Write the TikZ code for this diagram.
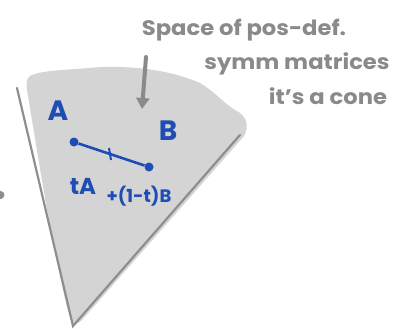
\documentclass[tikz,border=0pt]{standalone}
\usepackage{fontspec}
\setmainfont{Poppins}
\usetikzlibrary{arrows.meta}
\definecolor{conegray}{HTML}{D4D4D4}
\definecolor{linegray}{HTML}{8E8E8E}
\definecolor{inkgray}{HTML}{8A8A8A}
\definecolor{inkblue}{HTML}{1F4DB3}
\tikzset{
  edge/.style={draw=linegray, line width=2.2pt, line cap=round},
  note/.style={text=inkgray, font=\fontsize{21}{22}\selectfont\bfseries, inner sep=0pt, xscale=1.08},
  bluelbl/.style={text=inkblue, font=\fontsize{28}{30}\selectfont\bfseries, inner sep=0pt},
  bluemid/.style={text=inkblue, font=\fontsize{23}{24}\selectfont\bfseries, inner sep=0pt},
  bluesmall/.style={text=inkblue, font=\fontsize{18}{20}\selectfont\bfseries, inner sep=0pt},
  dot/.style={circle, fill=inkblue, minimum size=9pt, inner sep=0pt},
}
\begin{document}
\begin{tikzpicture}[x=1pt, y=-1pt]
\useasboundingbox (0,0) rectangle (407,329);
% cone region
\fill[conegray] (30,76) .. controls (40,70) and (70,70) .. (100,67)
  .. controls (135,66) and (170,70) .. (200,83)
  .. controls (215,92) and (225,104) .. (235,110)
  .. controls (246,115) and (250,125) .. (244,136)
  -- (82,320) .. controls (78,325) and (72,324) .. (70,318)
  .. controls (62,290) and (55,250) .. (48,215)
  .. controls (40,170) and (32,120) .. (27,90) .. controls (26,82) and (27,78) .. (30,76) -- cycle;
% cone edges
\coordinate (apex) at (73,326);
\coordinate (ltop) at (17,88);
\coordinate (rtop) at (240,135);
\draw[edge] (ltop) -- (apex) -- (rtop);
% small mark at left
\fill[linegray] (0,191) .. controls (4,191) and (6,195) .. (3,198) .. controls (2,199) and (0,199) .. (0,199) -- cycle;
% annotation text
\node[note] (t1) at (244,30) {Space of pos-def.};
\node[note] (t2) at (297,64) {symm matrices};
\node[note] (t3) at (328,96) {it's a cone};
% arrow
\coordinate (ashaft) at (146,57);
\coordinate (atip) at (142,109);
\draw[draw=inkgray, line width=4pt, line cap=round, -{Triangle[length=11pt,width=13pt]}] (ashaft) -- (atip);
% points
\node[dot] (pA) at (74,142) {};
\node[dot] (pB) at (149,167) {};
\draw[inkblue, line width=2.6pt] (pA) -- (pB);
\coordinate (mid) at (110,154);
\draw[inkblue, line width=2pt] ([xshift=1pt,yshift=-6pt]mid) -- ([xshift=-1pt,yshift=6pt]mid);
\node[bluelbl] (lA) at (58,111) {A};
\node[bluelbl] (lB) at (168,131) {B};
\node[bluemid] (lt1) at (83,186) {tA};
\node[bluesmall] (lt2) at (139,196) {+(1-t)B};
\end{tikzpicture}
\end{document}
